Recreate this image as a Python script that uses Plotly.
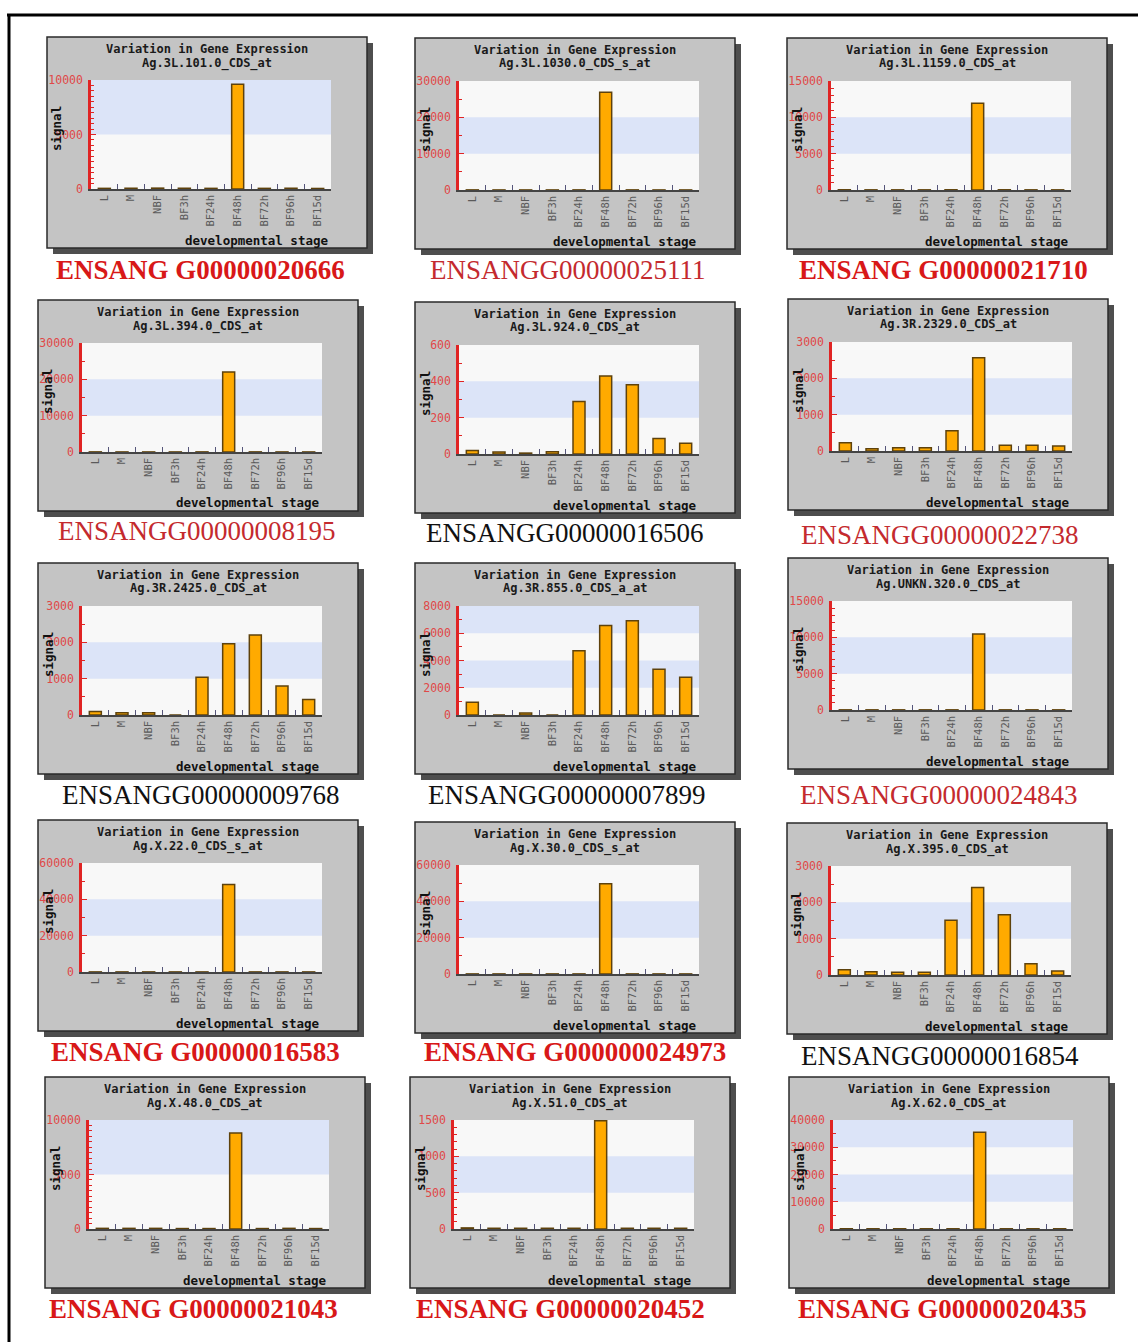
import plotly.graph_objects as go

W, H = 1138, 1342

# ---------------------------------------------------------------- data
stages = ["L", "M", "NBF", "BF3h", "BF24h", "BF48h", "BF72h", "BF96h", "BF15d"]

probe_ids = [
    "Ag.3L.101.0_CDS_at", "Ag.3L.1030.0_CDS_s_at", "Ag.3L.1159.0_CDS_at",
    "Ag.3L.394.0_CDS_at", "Ag.3L.924.0_CDS_at", "Ag.3R.2329.0_CDS_at",
    "Ag.3R.2425.0_CDS_at", "Ag.3R.855.0_CDS_a_at", "Ag.UNKN.320.0_CDS_at",
    "Ag.X.22.0_CDS_s_at", "Ag.X.30.0_CDS_s_at", "Ag.X.395.0_CDS_at",
    "Ag.X.48.0_CDS_at", "Ag.X.51.0_CDS_at", "Ag.X.62.0_CDS_at",
]

gene_ids = [
    "ENSANG G00000020666", "ENSANGG00000025111", "ENSANG G00000021710",
    "ENSANGG00000008195", "ENSANGG00000016506", "ENSANGG00000022738",
    "ENSANGG00000009768", "ENSANGG00000007899", "ENSANGG00000024843",
    "ENSANG G00000016583", "ENSANG G000000024973", "ENSANGG00000016854",
    "ENSANG G00000021043", "ENSANG G00000020452", "ENSANG G00000020435",
]

signal_3L_101 = [60, 70, 80, 70, 60, 9600, 60, 70, 50]
signal_3L_1030 = [30, 20, 20, 20, 30, 26900, 30, 20, 20]
signal_3L_1159 = [30, 20, 20, 20, 30, 11950, 30, 20, 20]
signal_3L_394 = [30, 20, 20, 20, 30, 22000, 30, 20, 20]
signal_3L_924 = [19, 11, 5, 13, 289, 430, 381, 85, 59]
signal_3R_2329 = [227, 64, 90, 90, 555, 2564, 155, 155, 136]
signal_3R_2425 = [93, 65, 65, 0, 1037, 1963, 2204, 796, 426]
signal_3R_855 = [938, 0, 148, 0, 4716, 6568, 6914, 3358, 2765]
signal_UNKN_320 = [20, 20, 20, 20, 20, 10450, 20, 20, 20]
signal_X_22 = [50, 50, 50, 50, 50, 48150, 50, 50, 50]
signal_X_30 = [50, 50, 50, 50, 50, 49630, 50, 50, 50]
signal_X_395 = [147, 92, 74, 74, 1509, 2411, 1656, 313, 110]
signal_X_48 = [60, 60, 60, 40, 40, 8800, 40, 60, 40]
signal_X_51 = [15, 10, 10, 10, 10, 1490, 10, 10, 10]
signal_X_62 = [100, 80, 80, 80, 80, 35500, 80, 80, 80]

signals = [
    signal_3L_101, signal_3L_1030, signal_3L_1159,
    signal_3L_394, signal_3L_924, signal_3R_2329,
    signal_3R_2425, signal_3R_855, signal_UNKN_320,
    signal_X_22, signal_X_30, signal_X_395,
    signal_X_48, signal_X_51, signal_X_62,
]

# axis scales of each small chart
y_max = [10000, 30000, 15000, 30000, 600, 3000, 3000, 8000, 15000,
         60000, 60000, 3000, 10000, 1500, 40000]
y_step = [5000, 10000, 5000, 10000, 200, 1000, 1000, 2000, 5000,
          20000, 20000, 1000, 5000, 500, 10000]
y_minor = [500, 5000, 1000, 5000, 100, 500, 500, 1000, 1000,
           10000, 10000, 500, 500, 100, 5000]

# label style: (red?, bold?)
label_red = [True, True, True, True, False, True, False, False, True,
             True, True, False, True, True, True]
label_bold = [True, False, True, False, False, False, False, False, False,
              True, True, False, True, True, True]

# ---------------------------------------------------------------- layout
panel_origin = [(47, 37), (415, 38), (787, 38),
                (38, 300), (415, 302), (788, 299),
                (38, 563), (415, 563), (788, 558),
                (38, 820), (415, 822), (787, 823),
                (45, 1077), (410, 1077), (789, 1077)]
label_center = [(200, 270), (568, 270), (943, 270),
                (197, 531), (565, 533), (940, 535),
                (201, 795), (567, 795), (939, 795),
                (195, 1052), (575, 1052), (940, 1056),
                (193, 1309), (560, 1309), (942, 1309)]
PW, PH = 320, 211

PANEL = "#c4c4c4"
SHADOW = "#4e4e4e"
BAND_LIGHT = "#f8f8f8"
BAND_BLUE = "#dce4f8"
AXIS_RED = "#e02424"
TICK_RED = "#e04848"
BAR_FILL = "#ffaa00"
BAR_EDGE = "#5e420c"
MONO = "DejaVu Sans Mono"
SERIF = "Liberation Serif"


def px(x):
    return x / W


def py(y):
    return 1 - y / H


def paper_rect(x0, y0, x1, y1, fill, line=None, lw=0):
    return dict(type="rect", xref="paper", yref="paper",
                x0=px(x0), x1=px(x1), y0=py(y1), y1=py(y0),
                fillcolor=fill, line=dict(color=line or fill, width=lw),
                layer="below")


fig = go.Figure()
shapes, annotations, axes = [], [], {}

for i in range(len(signals)):
    n = i + 1
    sfx = "" if n == 1 else str(n)
    left, top = panel_origin[i]

    # panel with drop shadow
    shapes.append(paper_rect(left + 6, top + 6, left + PW + 6, top + PH + 6, SHADOW))
    shapes.append(paper_rect(left, top, left + PW, top + PH, PANEL, "#2a2a2a", 1.5))

    x0, x1 = left + 44, left + 284
    yt, yb = top + 43, top + 152

    # plot area: alternating horizontal bands at each major tick
    shapes.append(dict(type="rect", xref=f"x{sfx} domain", yref=f"y{sfx}",
                       x0=0, x1=1, y0=0, y1=y_max[i], fillcolor=BAND_LIGHT,
                       line=dict(width=0), layer="below"))
    k, v = 0, 0
    while v < y_max[i]:
        if k % 2 == 1:
            shapes.append(dict(type="rect", xref=f"x{sfx} domain", yref=f"y{sfx}",
                               x0=0, x1=1, y0=v, y1=min(v + y_step[i], y_max[i]),
                               fillcolor=BAND_BLUE, line=dict(width=0), layer="below"))
        v += y_step[i]
        k += 1

    fig.add_trace(go.Bar(
        x=stages, y=signals[i], xaxis=f"x{sfx}", yaxis=f"y{sfx}",
        width=0.45, marker=dict(color=BAR_FILL, line=dict(color=BAR_EDGE, width=1.5)),
        showlegend=False, hoverinfo="x+y",
    ))

    ticks = list(range(0, y_max[i] + 1, y_step[i]))
    axes["xaxis" + sfx] = dict(
        domain=[px(x0), px(x1)], anchor="y" + sfx, type="category",
        categoryorder="array", categoryarray=stages, range=[-0.5, 8.5],
        tickangle=-90, tickson="boundaries", ticks="inside", ticklen=5,
        tickcolor="#55557a", tickwidth=1.2,
        tickfont=dict(family=MONO, size=10.5, color="#5a5a5a"),
        showline=True, linecolor="#444444", linewidth=1.5,
        showgrid=False, zeroline=False, fixedrange=True, automargin=False,
    )
    axes["yaxis" + sfx] = dict(
        domain=[py(yb), py(yt)], anchor="x" + sfx, range=[0, y_max[i]],
        tickmode="array", tickvals=ticks, ticktext=[str(t) for t in ticks],
        ticks="inside", ticklen=5, tickcolor=AXIS_RED, tickwidth=1,
        minor=dict(dtick=y_minor[i], ticks="inside", ticklen=3,
                   tickcolor=AXIS_RED, tickwidth=1, showgrid=False),
        ticklabelstandoff=3,
        tickfont=dict(family=MONO, size=11.5, color=TICK_RED),
        showline=True, linecolor=AXIS_RED, linewidth=2.5,
        showgrid=False, zeroline=False, fixedrange=True, automargin=False,
    )

    cx = left + 160
    annotations += [
        dict(text="<b>Variation in Gene Expression</b>", x=px(cx), y=py(top + 12)),
        dict(text=f"<b>{probe_ids[i]}</b>", x=px(cx), y=py(top + 26)),
    ]
    for a in annotations[-2:]:
        a.update(xref="paper", yref="paper", showarrow=False,
                 xanchor="center", yanchor="middle",
                 font=dict(family=MONO, size=12, color="#1a1a1a"))
    annotations.append(dict(
        text="<b>developmental stage</b>", xref="paper", yref="paper",
        x=px(left + 283), y=py(top + 203), xanchor="right", yanchor="middle",
        showarrow=False, font=dict(family=MONO, size=12.5, color="#111111")))
    annotations.append(dict(
        text="<b>signal</b>", xref="paper", yref="paper", textangle=-90,
        x=px(left + 10), y=py(top + 92), xanchor="center", yanchor="middle",
        showarrow=False, font=dict(family=MONO, size=12.5, color="#111111")))

    lx, ly = label_center[i]
    color = ("#d81818" if label_bold[i] else "#c42a2e") if label_red[i] else "#111111"
    text = f"<b>{gene_ids[i]}</b>" if label_bold[i] else gene_ids[i]
    annotations.append(dict(
        text=text, xref="paper", yref="paper", x=px(lx), y=py(ly),
        xanchor="center", yanchor="middle", showarrow=False,
        font=dict(family=SERIF, size=27, color=color)))

# outer frame (top and left edges)
shapes.append(dict(type="line", xref="paper", yref="paper",
                   x0=px(7), x1=px(1140), y0=py(15), y1=py(15),
                   line=dict(color="#000000", width=3), layer="below"))
shapes.append(dict(type="line", xref="paper", yref="paper",
                   x0=px(9), x1=px(9), y0=py(14), y1=py(1345),
                   line=dict(color="#000000", width=3), layer="below"))

fig.update_layout(
    width=W, height=H, margin=dict(l=0, r=0, t=0, b=0, pad=0, autoexpand=False),
    paper_bgcolor="#ffffff", plot_bgcolor="rgba(0,0,0,0)",
    shapes=shapes, annotations=annotations, bargap=0.5,
    **axes,
)

fig.write_html("out.html")
